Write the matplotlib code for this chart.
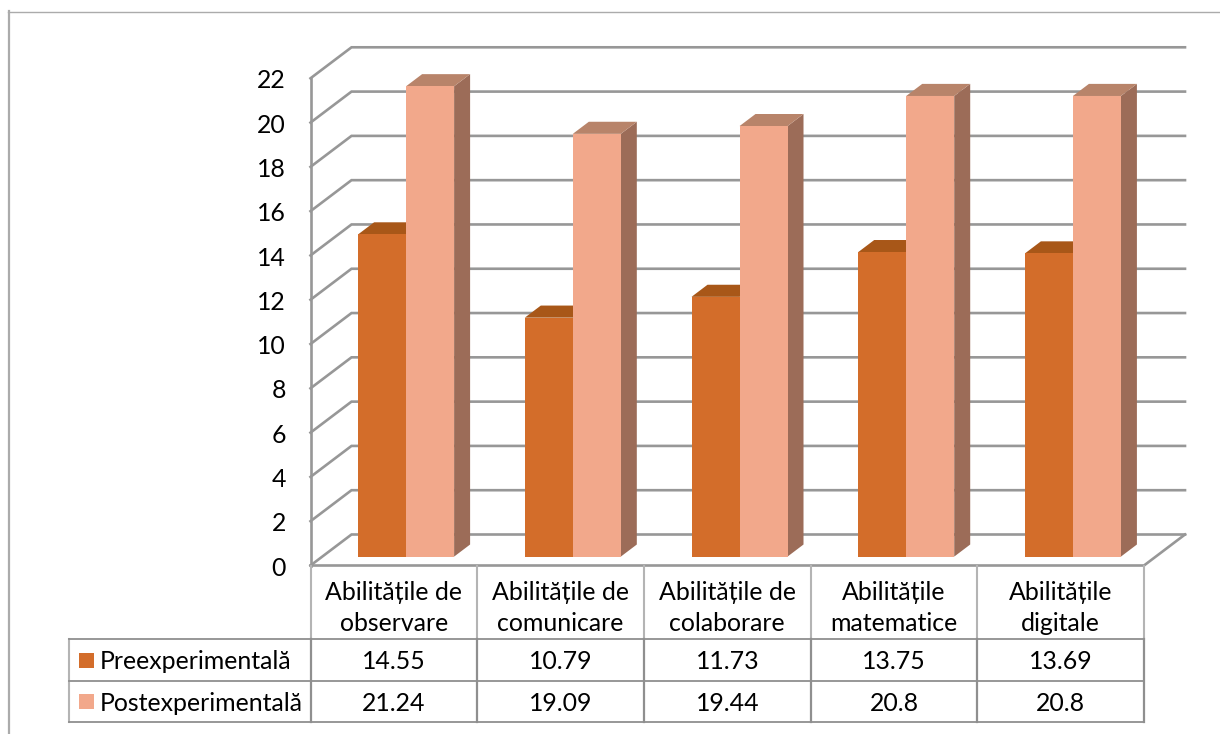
#!/usr/bin/env python3
"""Clustered bars in a fake 3D box, with a data table underneath."""

import matplotlib
matplotlib.use("Agg")
import matplotlib.pyplot as plt
from matplotlib.patches import Polygon, Rectangle

plt.rcParams["font.family"] = ["Lato", "DejaVu Sans"]

categories = [
    "Abilitățile de\nobservare",
    "Abilitățile de\ncomunicare",
    "Abilitățile de\ncolaborare",
    "Abilitățile\nmatematice",
    "Abilitățile\ndigitale",
]
series_names = ["Preexperimentală", "Postexperimentală"]
pre_values = [14.55, 10.79, 11.73, 13.75, 13.69]
post_values = [21.24, 19.09, 19.44, 20.8, 20.8]
value_labels = [
    ["14.55", "10.79", "11.73", "13.75", "13.69"],
    ["21.24", "19.09", "19.44", "20.8", "20.8"],
]
y_ticks = list(range(0, 23, 2))

W, H = 1220, 734
GRID = "#979797"
TABLE = "#8f8f8f"
TABLE_LIGHT = "#b4b4b4"
BORDER = "#ababab"
FRONT = ["#d36d2a", "#f2a88b"]
TOP = ["#a85718", "#b8846a"]
SIDE = ["#a85718", "#9c6c58"]
FS = 17.9

# plot box corners in pixels
X0, X1 = 310.5, 1144
Y0, Y22 = 565.5, 78.3
CAT_PX = (X1 - X0) / 5
VAL_PX = (Y0 - Y22) / 22

# Oblique projection: one unit of depth moves things right and up.
DEPTH_X = 41 / CAT_PX
DEPTH_Y = 31 / VAL_PX
BAR_W = 48 / CAT_PX
BAR_Z = 0.287     # where the bars stand on the floor
BAR_D = 0.39      # how deep the bars are
BAR_NUDGE = 0.5 / CAT_PX


def px(x):
    return (x - X0) / CAT_PX


def py(y):
    return (Y0 - y) / VAL_PX


def proj(x, y, z):
    return x + z * DEPTH_X, y + z * DEPTH_Y


def draw_bar(ax, x0, value, s):
    fl = [proj(x0, 0, BAR_Z), proj(x0 + BAR_W, 0, BAR_Z),
          proj(x0 + BAR_W, value, BAR_Z), proj(x0, value, BAR_Z)]
    top = [proj(x0, value, BAR_Z), proj(x0 + BAR_W, value, BAR_Z),
           proj(x0 + BAR_W, value, BAR_Z + BAR_D), proj(x0, value, BAR_Z + BAR_D)]
    side = [proj(x0 + BAR_W, 0, BAR_Z), proj(x0 + BAR_W, 0, BAR_Z + BAR_D),
            proj(x0 + BAR_W, value, BAR_Z + BAR_D), proj(x0 + BAR_W, value, BAR_Z)]
    z = 5 + 0.1 * s
    # clip_on off: the tallest bars poke out of the value range once projected
    ax.add_patch(Polygon(side, fc=SIDE[s], ec="none", zorder=z, clip_on=False))
    ax.add_patch(Polygon(top, fc=TOP[s], ec="none", zorder=z, clip_on=False))
    ax.add_patch(Polygon(fl, fc=FRONT[s], ec="none", zorder=z + 0.05, clip_on=False))


fig = plt.figure(figsize=(W / 100, H / 100), dpi=100)

# axes covers the plot box only; everything else is allowed to spill out
ax = fig.add_axes([X0 / W, 1 - Y0 / H, (X1 - X0) / W, (Y0 - Y22) / H])
ax.set_xlim(0, len(categories))
ax.set_ylim(0, 22)
ax.axis("off")

# walls and floor
for t in y_ticks:
    bx, by = proj(0, t, 1)
    ex, _ = proj(len(categories), t, 1)
    ax.plot([0, bx, ex], [t, by, by], color=GRID, lw=1.9, clip_on=False,
            solid_joinstyle="miter", zorder=2)
    ax.text(px(286), t - 0.12, str(t), ha="right", va="center", fontsize=FS,
            color="black", clip_on=False)
ax.plot([0, 0], [0, 22], color=GRID, lw=1.9, clip_on=False, zorder=2)
n = len(categories)
ax.plot([0, n, proj(n, 0, 1)[0]], [0, 0, proj(n, 0, 1)[1]], color=GRID,
        lw=1.9, clip_on=False, solid_joinstyle="miter", zorder=2)

# bars
for i, (a, b) in enumerate(zip(pre_values, post_values)):
    draw_bar(ax, i + 0.5 - BAR_W + BAR_NUDGE, a, 0)
    draw_bar(ax, i + 0.5 + BAR_NUDGE, b, 1)

# data table underneath, y positions in pixels below the plot
row_tops = [py(565.5), py(639), py(681), py(722)]
left = px(69)
for i in range(n + 1):
    # category row is drawn lighter than the value rows
    ax.plot([i, i], [row_tops[0], row_tops[1]], color=TABLE_LIGHT, lw=1.5,
            clip_on=False, zorder=2)
    ax.plot([i, i], [row_tops[1], row_tops[3]], color=TABLE, lw=1.6,
            clip_on=False, zorder=2)
ax.plot([left, left], [row_tops[1], row_tops[3]], color=TABLE_LIGHT, lw=1.5,
        clip_on=False, zorder=2)
for r in row_tops[1:]:
    ax.plot([left, n], [r, r], color=TABLE, lw=1.3, clip_on=False, zorder=2)

for i, label in enumerate(categories):
    ax.text(i + 0.5, py(608), label, ha="center", va="center", fontsize=FS,
            linespacing=1.38, clip_on=False)

for s, name in enumerate(series_names):
    mid = (row_tops[s + 1] + row_tops[s + 2]) / 2
    for i in range(n):
        ax.text(i + 0.5, mid - 0.08, value_labels[s][i], ha="center", va="center",
                fontsize=FS, clip_on=False)
    ax.add_patch(Rectangle((px(79), mid - 7.5 / VAL_PX), 15 / CAT_PX, 15 / VAL_PX,
                           fc=FRONT[s], ec="none", clip_on=False))
    ax.text(px(100), mid - 0.08, name, ha="left", va="center", fontsize=FS,
            clip_on=False)

# chart area border, open to the bottom and right of the canvas
trans = fig.transFigure
fig.add_artist(plt.Line2D([9 / W, 9 / W], [0, 1 - 11 / H], color=BORDER,
                          lw=1.6, transform=trans))
fig.add_artist(plt.Line2D([8 / W, 1], [1 - 11.5 / H, 1 - 11.5 / H], color=BORDER,
                          lw=1.0, transform=trans))

fig.savefig("out.png", dpi=100)
